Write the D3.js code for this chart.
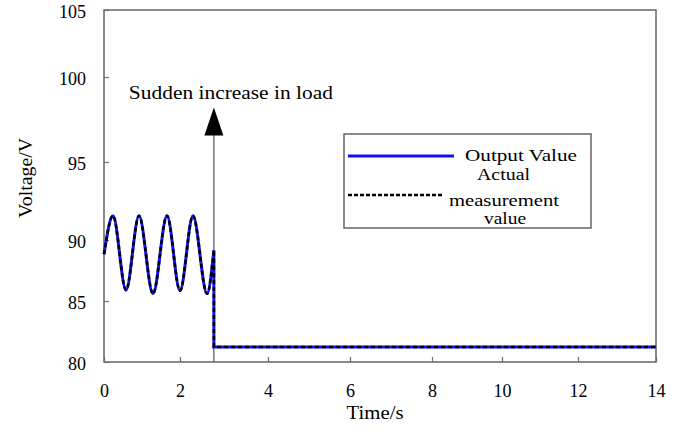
<!DOCTYPE html>
<html>
<head>
<meta charset="utf-8">
<script src="https://cdn.jsdelivr.net/npm/d3@7"></script>
<style>
  html, body { margin: 0; padding: 0; background: #fff; }
  svg { display: block; }
  svg text { font-family: "Liberation Serif", "Times New Roman", serif !important; fill: #000; }
</style>
</head>
<body>
<svg id="chart" width="687" height="437"></svg>
<script>
// ---- data ----
const xTicks = [0, 2, 4, 6, 8, 10, 12, 14];
const yTicks = [80, 85, 90, 95, 100, 105];

// oscillating part before the load step (time in s, voltage in V)
const oscTime    = [0, 0.237, 0.579, 0.921, 1.289, 1.658, 2.0, 2.295, 2.614, 2.77];
const oscVoltage = [88.83, 91.55, 85.9, 91.55, 85.6, 91.55, 85.85, 91.55, 85.6, 89.17];

// step after the sudden load increase
const stepTime    = [2.77, 2.77, 14];
const stepVoltage = [89.17, 81.23, 81.23];

const seriesNames = ["Output Value", "Actual measurement value"];
const annotationText = "Sudden increase in load";
const annotationTime = 2.77;
const annotationTop = 98.2;   // voltage level of arrow tip

// ---- layout ----
const svg = d3.select("#chart");
const plotL = 104, plotR = 656, plotT = 10, plotB = 362;
const FONT = '"Liberation Serif", "Times New Roman", serif';

// the reference's axis labels are unevenly spaced, so piecewise linear scales are used
const x = d3.scaleLinear()
  .domain(xTicks)
  .range([104, 180, 268, 350, 432, 502, 578, 656]);
const y = d3.scaleLinear()
  .domain(yTicks)
  .range([362, 301, 240, 162, 77, 10]);

const axisColor = "#6e6e6e";

// axes
const xAxis = d3.axisBottom(x).tickValues(xTicks).tickFormat(d3.format("d"))
  .tickSizeInner(-5).tickSizeOuter(0).tickPadding(22);
const gx = svg.append("g").attr("transform", `translate(0,${plotB})`).call(xAxis)
  .attr("font-family", FONT).attr("font-size", 18);
gx.select(".domain").remove();
gx.selectAll(".tick line").attr("stroke", axisColor).attr("stroke-width", 1.2);
gx.selectAll(".tick text").attr("fill", "#000");

const yAxis = d3.axisLeft(y).tickValues(yTicks).tickFormat(d3.format("d"))
  .tickSizeInner(-5).tickSizeOuter(0).tickPadding(18);
const gy = svg.append("g").attr("transform", `translate(${plotL},0)`).call(yAxis)
  .attr("font-family", FONT).attr("font-size", 18);
gy.select(".domain").remove();
gy.selectAll(".tick line").attr("stroke", axisColor).attr("stroke-width", 1.2);
gy.selectAll(".tick text").attr("dy", "0.42em").attr("fill", "#000");

// plot frame
svg.append("rect")
  .attr("x", plotL).attr("y", plotT)
  .attr("width", plotR - plotL).attr("height", plotB - plotT)
  .attr("fill", "none").attr("stroke", axisColor).attr("stroke-width", 1.6);

// axis titles
svg.append("text")
  .attr("x", 375).attr("y", 419)
  .attr("text-anchor", "middle")
  .attr("textLength", 57).attr("lengthAdjust", "spacingAndGlyphs")
  .style("font-size", "19px")
  .text("Time/s");
svg.append("text")
  .attr("transform", "translate(32,178) rotate(-90)")
  .attr("text-anchor", "middle")
  .attr("textLength", 80).attr("lengthAdjust", "spacingAndGlyphs")
  .style("font-size", "19px")
  .text("Voltage/V");

// series path
const oscPts = oscTime.map((t, i) => [t, oscVoltage[i]]);
const stepPts = stepTime.map((t, i) => [t, stepVoltage[i]]);
const oscLine = d3.line().x(d => x(d[0])).y(d => y(d[1])).curve(d3.curveMonotoneX);
const stepLine = d3.line().x(d => x(d[0])).y(d => y(d[1]));
const fullPath = oscLine(oscPts) + stepLine(stepPts).replace(/^M/, "L");

// annotation arrow (drawn under the curve)
const ax = x(annotationTime);
const tipY = y(annotationTop);
svg.append("line")
  .attr("x1", ax).attr("x2", ax)
  .attr("y1", tipY + 27).attr("y2", plotB)
  .attr("stroke", "#555").attr("stroke-width", 1.2);
svg.append("path")
  .attr("d", `M${ax},${tipY} L${ax - 9.5},${tipY + 28} L${ax + 9.5},${tipY + 28} Z`)
  .attr("fill", "#000");
svg.append("text")
  .attr("x", ax + 17).attr("y", tipY - 9)
  .attr("text-anchor", "middle")
  .attr("textLength", 204).attr("lengthAdjust", "spacingAndGlyphs")
  .style("font-size", "19px")
  .text(annotationText);

svg.append("path")
  .attr("d", fullPath)
  .attr("fill", "none")
  .attr("stroke", "#1010f0")
  .attr("stroke-width", 3);
svg.append("path")
  .attr("d", fullPath)
  .attr("fill", "none")
  .attr("stroke", "#000")
  .attr("stroke-width", 2.6)
  .attr("stroke-dasharray", "4,3");

// legend
const lg = svg.append("g");
lg.append("rect")
  .attr("x", 344).attr("y", 134).attr("width", 247).attr("height", 94)
  .attr("fill", "#fff").attr("stroke", axisColor).attr("stroke-width", 1.6);
lg.append("line")
  .attr("x1", 348).attr("x2", 454).attr("y1", 156).attr("y2", 156)
  .attr("stroke", "#1010f0").attr("stroke-width", 3);
lg.append("text")
  .attr("x", 465).attr("y", 161)
  .attr("textLength", 112).attr("lengthAdjust", "spacingAndGlyphs")
  .style("font-size", "16px")
  .text(seriesNames[0]);
lg.append("line")
  .attr("x1", 348).attr("x2", 443).attr("y1", 195).attr("y2", 195)
  .attr("stroke", "#000").attr("stroke-width", 2.4).attr("stroke-dasharray", "4,2");
const words = seriesNames[1].split(" ");
lg.append("text")
  .attr("x", 477).attr("y", 179.5)
  .attr("textLength", 53).attr("lengthAdjust", "spacingAndGlyphs")
  .style("font-size", "16px")
  .text(words[0]);
lg.append("text")
  .attr("x", 449).attr("y", 206)
  .attr("textLength", 110).attr("lengthAdjust", "spacingAndGlyphs")
  .style("font-size", "16px")
  .text(words[1]);
lg.append("text")
  .attr("x", 484).attr("y", 224)
  .attr("textLength", 42).attr("lengthAdjust", "spacingAndGlyphs")
  .style("font-size", "16px")
  .text(words[2]);
</script>
</body>
</html>
